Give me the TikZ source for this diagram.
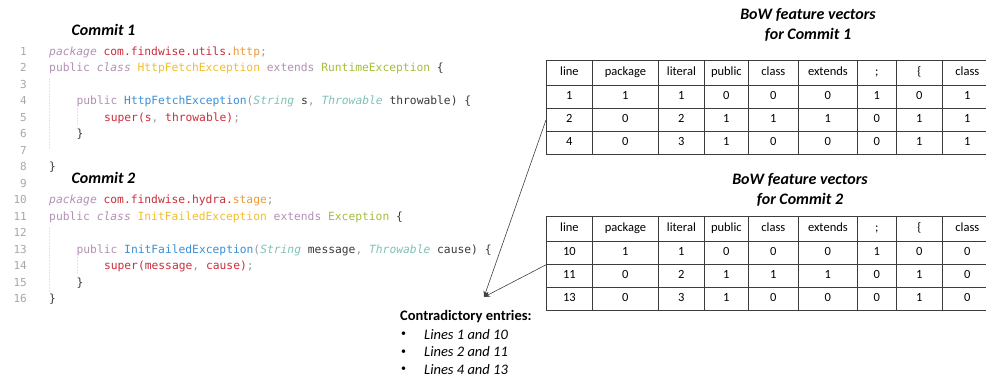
\documentclass[tikz,border=0pt]{standalone}
\usepackage{fontspec}
\setmainfont{Carlito}
\newfontfamily\codefont{DejaVu Sans Mono}
\usepackage{xcolor}
\usepackage{tikz}
\usetikzlibrary{arrows.meta,positioning}
\definecolor{ckw}{HTML}{B391B5}
\definecolor{cred}{HTML}{CC2E3B}
\definecolor{corg}{HTML}{EE9A3A}
\definecolor{ccls}{HTML}{F2BE2E}
\definecolor{cgrn}{HTML}{A3BF3C}
\definecolor{cfn}{HTML}{3A90DA}
\definecolor{ctyp}{HTML}{7DC3B6}
\definecolor{cpun}{HTML}{9A9A9A}
\definecolor{cdark}{HTML}{3A3A3A}
\definecolor{lgray}{HTML}{A8A8A8}
\definecolor{tabline}{HTML}{3C3C3C}
\newcommand{\tokkw}[1]{\textcolor{ckw}{#1}}
\newcommand{\tokkwi}[1]{\textcolor{ckw}{\itshape #1}}
\newcommand{\tokred}[1]{\textcolor{cred}{#1}}
\newcommand{\tokorg}[1]{\textcolor{corg}{#1}}
\newcommand{\tokcls}[1]{\textcolor{ccls}{#1}}
\newcommand{\tokgrn}[1]{\textcolor{cgrn}{#1}}
\newcommand{\tokfn}[1]{\textcolor{cfn}{#1}}
\newcommand{\toktyp}[1]{\textcolor{ctyp}{\itshape #1}}
\newcommand{\tokpun}[1]{\textcolor{cpun}{#1}}
\newcommand{\colx}{{546,592,658,704,748,798,857,896,942,992}}
\tikzset{
  cell/.style={draw=tabline,line width=0.8pt,anchor=north west,inner sep=0pt,text height=8.5pt,text depth=2.5pt,font=\fontsize{12.5}{14}\selectfont,text=black},
  code/.style={anchor=base west,inner sep=0pt,font=\codefont\fontsize{11.3}{13}\selectfont,text=cdark},
  lnum/.style={anchor=base east,inner sep=0pt,font=\codefont\fontsize{11}{13}\selectfont,text=lgray},
  heading/.style={font=\fontsize{16}{20}\selectfont\bfseries\itshape,align=center,inner sep=0pt},
  entry/.style={anchor=west,inner sep=0pt,font=\fontsize{14.5}{17}\selectfont},
  guide/.style={draw=black!10,densely dotted,line width=0.5pt},
  ar/.style={-{Stealth[length=6pt,width=5pt]},draw=black!75,line width=0.6pt},
}

\begin{document}
\begin{tikzpicture}[x=1pt,y=-1pt]
  \path[use as bounding box,fill=white] (0,0) rectangle (986,379);

  % source of the two commits
  \node[heading] (commit1) at (103.5,30) {Commit 1};
  \node[heading] (commit2) at (103.5,178) {Commit 2};
  \foreach \n in {1,...,16} {
     \pgfmathsetmacro\yy{55.5+16.5*(\n-1)}
     \node[lnum] (ln\n) at (27,\yy) {\n};
  }
  \draw[guide] (49,78) -- (49,150);
  \draw[guide] (77,108) -- (77,126);
  \draw[guide] (49,227) -- (49,293);
  \draw[guide] (77,257) -- (77,275);
  \node[code] (src1) at (49,55.5) {\tokkwi{package} \tokred{com.findwise.utils.}\tokorg{http}\tokpun{;}};
  \node[code] (src2) at (49,72) {\tokkw{public} \tokkwi{class} \tokcls{HttpFetchException} \tokkw{extends} \tokgrn{RuntimeException} \{};
  \node[code] (src4) at (76.4,105) {\tokkw{public} \tokfn{HttpFetchException}\tokpun{(}\toktyp{String} s\tokpun{,} \toktyp{Throwable} throwable) \{};
  \node[code] (src5) at (103.8,121.5) {\tokred{super(s}\tokpun{,} \tokred{throwable)}\tokpun{;}};
  \node[code] (src6) at (76.4,138) {\}};
  \node[code] (src8) at (49,171) {\}};
  \node[code] (src10) at (49,204) {\tokkwi{package} \tokred{com.findwise.hydra.}\tokorg{stage}\tokpun{;}};
  \node[code] (src11) at (49,220.5) {\tokkw{public} \tokkwi{class} \tokcls{InitFailedException} \tokkw{extends} \tokgrn{Exception} \{};
  \node[code] (src13) at (76.4,253.5) {\tokkw{public} \tokfn{InitFailedException}\tokpun{(}\toktyp{String} message\tokpun{,} \toktyp{Throwable} cause) \{};
  \node[code] (src14) at (103.8,270) {\tokred{super(message}\tokpun{,} \tokred{cause)}\tokpun{;}};
  \node[code] (src15) at (76.4,286.5) {\}};
  \node[code] (src16) at (49,303) {\}};

  % BoW tables
  \node[heading] (bow1) at (808,25) {BoW feature vectors\\for Commit 1};
  \foreach \row/\vals in {0/{line,package,literal,public,class,extends,;,\{,class}, 1/{1,1,1,0,0,0,1,0,1}, 2/{2,0,2,1,1,1,0,1,1}, 3/{4,0,3,1,0,0,0,1,1}}
    \foreach \val [count=\col from 0] in \vals {
      \pgfmathsetmacro\cellx{\colx[\col]}
      \pgfmathsetmacro\cellw{\colx[\col+1]-\colx[\col]}
      \pgfmathsetmacro\celly{\row==0 ? 60 : 62+23*\row}
      \pgfmathsetmacro\cellh{\row==0 ? 25 : 23}
      \node[cell,minimum width=\cellw pt,minimum height=\cellh pt] (ta-\row-\col) at (\cellx,\celly) {\val};
    }
  \node[heading] (bow2) at (800,190) {BoW feature vectors\\for Commit 2};
  \foreach \row/\vals in {0/{line,package,literal,public,class,extends,;,\{,class}, 1/{10,1,1,0,0,0,1,0,0}, 2/{11,0,2,1,1,1,0,1,0}, 3/{13,0,3,1,0,0,0,1,0}}
    \foreach \val [count=\col from 0] in \vals {
      \pgfmathsetmacro\cellx{\colx[\col]}
      \pgfmathsetmacro\cellw{\colx[\col+1]-\colx[\col]}
      \pgfmathsetmacro\celly{\row==0 ? 216 : 218+23*\row}
      \pgfmathsetmacro\cellh{\row==0 ? 25 : 23}
      \node[cell,minimum width=\cellw pt,minimum height=\cellh pt] (tb-\row-\col) at (\cellx,\celly) {\val};
    }

  % contradictory entries
  \node[entry,font=\fontsize{14.5}{17}\selectfont\bfseries] (contra) at (400,317) {Contradictory entries:};
  \foreach \i/\txt in {1/{Lines 1 and 10}, 2/{Lines 2 and 11}, 3/{Lines 4 and 13}} {
     \pgfmathsetmacro\yy{317+17.5*\i}
     \node[entry,font=\fontsize{10}{12}\selectfont] (dot\i) at (401,\yy) {•};
     \node[entry,font=\fontsize{14.5}{17}\selectfont\itshape] (pair\i) at (424,\yy) {\txt};
  }
  \coordinate (hit) at (484,297);
  \draw[ar] (ta-2-0.west) -- (hit);
  \draw[ar] (tb-1-0.south west) -- (hit);
\end{tikzpicture}
\end{document}
